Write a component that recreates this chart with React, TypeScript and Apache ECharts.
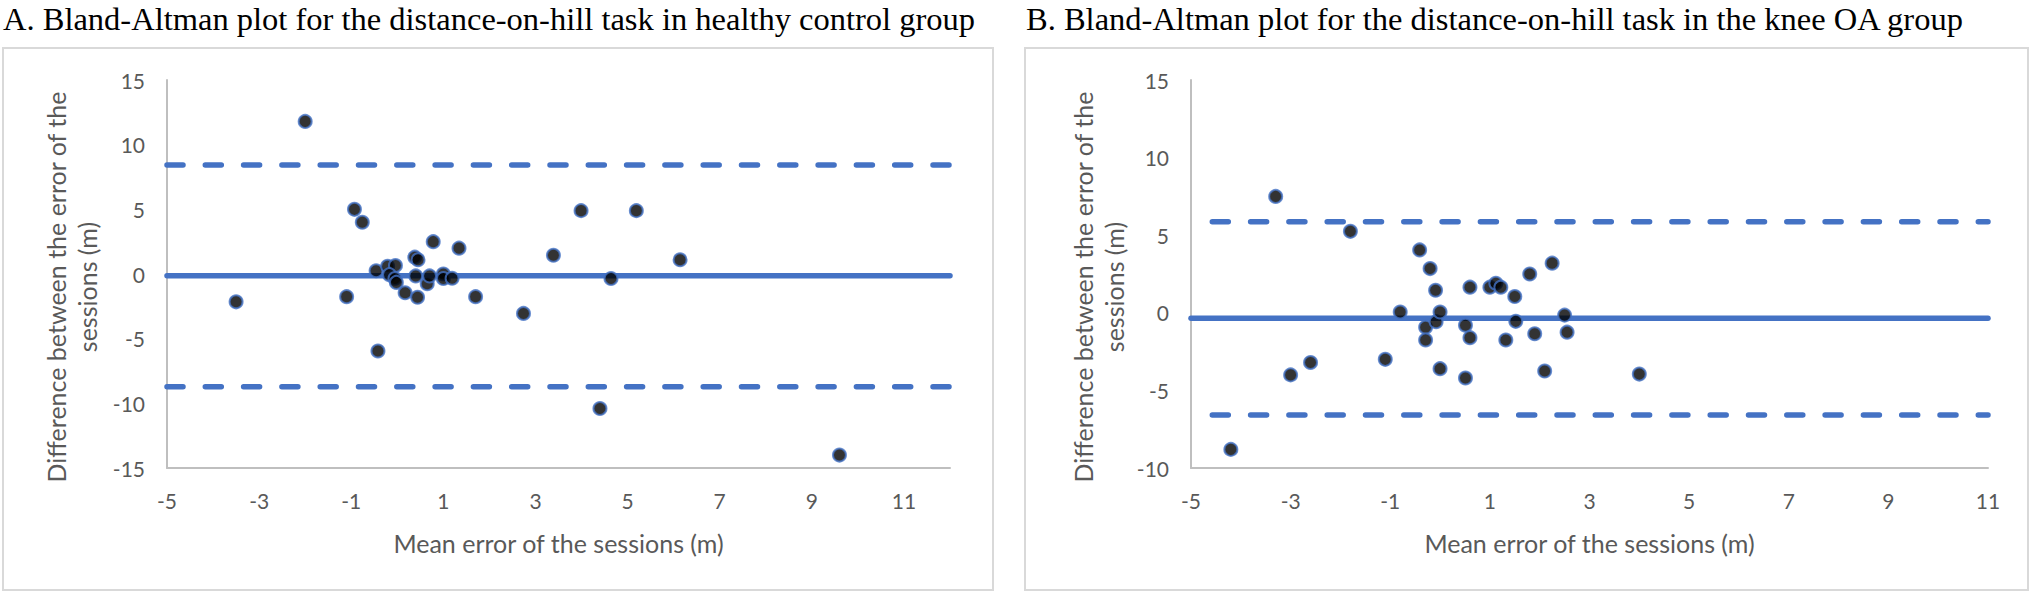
import React, { useEffect, useRef } from "react";
import * as echarts from "echarts";

// ---------- texts ----------
const titleA = "A. Bland-Altman plot for the distance-on-hill task in healthy control group";
const titleB = "B. Bland-Altman plot for the distance-on-hill task in the knee OA group";
const xAxisName = "Mean error of the sessions (m)";
const yAxisName = "Difference between the error of the\nsessions (m)";

// ---------- panel A: healthy control group ----------
const meanA = [
  -3.5, -2.0, -1.1, -0.93, -0.76, -0.46, -0.42, -0.21, -0.04, -0.17, -0.05,
  -0.02, 0.17, 0.38, 0.45, 0.4, 0.44, 0.65, 0.7, 0.78, 1.0, 1.0, 1.19, 1.34,
  1.7, 2.74, 3.39, 3.99, 4.4, 4.64, 5.19, 6.14, 9.6,
];
const diffA = [
  -2.15, 11.8, -1.75, 5.0, 4.0, 0.25, -5.95, 0.6, 0.65, -0.05, -0.35, -0.65,
  -1.45, 1.3, 1.1, -0.15, -1.8, -0.75, -0.15, 2.5, 0.0, -0.35, -0.33, 2.0,
  -1.75, -3.05, 1.45, 4.9, -10.4, -0.35, 4.9, 1.1, -14.0,
];
const biasA = -0.13;
const upperA = 8.43;
const lowerA = -8.72;
const xRangeA = [-5, 12];
const yRangeA = [-15, 15];

// ---------- panel B: knee OA group ----------
const meanB = [
  -4.2, -3.3, -3.0, -2.6, -1.8, -1.1, -0.8, -0.41, -0.29, -0.29, -0.2, -0.09,
  -0.08, 0.0, 0.0, 0.51, 0.51, 0.6, 0.6, 1.0, 1.12, 1.22, 1.5, 1.52, 1.32,
  1.8, 2.25, 1.9, 2.1, 2.5, 2.55, 4.0,
];
const diffB = [
  -8.8, 7.5, -4.0, -3.2, 5.25, -3.0, 0.05, 4.05, -0.93, -1.75, 2.85, 1.45,
  -0.57, 0.05, -3.6, -0.8, -4.2, 1.65, -1.6, 1.65, 1.9, 1.65, 1.05, -0.55,
  -1.75, 2.5, 3.2, -1.35, -3.75, -0.15, -1.25, -3.95,
];
const biasB = -0.35;
const upperB = 5.87;
const lowerB = -6.58;
const xRangeB = [-5, 11];
const yRangeB = [-10, 15];

const BLUE = "#4472C4";
const GREY_TEXT = "#595959";
const AXIS_GREY = "#bfbfbf";
const SANS = "Lato";
const SERIF = "Liberation Serif";

function xAxisOf(gridIndex: number, range: number[]) {
  return {
    type: "value",
    gridIndex,
    min: range[0],
    max: range[1],
    interval: 2,
    name: xAxisName,
    nameLocation: "middle",
    nameGap: 62,
    nameTextStyle: { fontFamily: SANS, fontSize: 25, color: GREY_TEXT, lineHeight: 25 },
    axisLine: { show: true, onZero: false, lineStyle: { color: AXIS_GREY, width: 2 } },
    axisTick: { show: false },
    splitLine: { show: false },
    axisLabel: {
      fontFamily: SANS,
      fontSize: 21,
      color: GREY_TEXT,
      margin: 22,
      showMaxLabel: (range[1] - range[0]) % 2 === 0,
    },
  };
}

function yAxisOf(gridIndex: number, range: number[], gap: number) {
  return {
    type: "value",
    gridIndex,
    min: range[0],
    max: range[1],
    interval: 5,
    name: yAxisName,
    nameLocation: "middle",
    nameRotate: 90,
    nameGap: gap,
    nameTextStyle: {
      fontFamily: SANS,
      fontSize: 25,
      color: GREY_TEXT,
      lineHeight: 31,
      padding: [0, 26, 0, 0],
    },
    axisLine: { show: true, onZero: false, lineStyle: { color: AXIS_GREY, width: 2 } },
    axisTick: { show: false },
    splitLine: { show: false },
    axisLabel: { fontFamily: SANS, fontSize: 21, color: GREY_TEXT, margin: 22 },
  };
}

function hLine(idx: number, range: number[], v: number, dashed: boolean, offset: number) {
  return {
    type: "line",
    xAxisIndex: idx,
    yAxisIndex: idx,
    data: [
      [range[0], v],
      [range[1], v],
    ],
    symbol: "none",
    silent: true,
    z: 2,
    lineStyle: {
      color: BLUE,
      width: 5.5,
      type: dashed ? [16, 22.3] : "solid",
      dashOffset: offset,
      cap: "round",
    },
  };
}

function scatterOf(idx: number, xs: number[], ys: number[]) {
  return {
    type: "scatter",
    xAxisIndex: idx,
    yAxisIndex: idx,
    data: xs.map((x, i) => [x, ys[i]]),
    symbol: "circle",
    symbolSize: 13,
    z: 5,
    itemStyle: { color: "#000000", borderColor: BLUE, borderWidth: 2 },
  };
}

export default function App() {
  const ref = useRef<HTMLDivElement>(null);

  useEffect(() => {
    if (!ref.current) return;
    const chart = echarts.init(ref.current, null, { renderer: "svg" });
    const titleStyle = {
      fontFamily: SERIF,
      fontSize: 32.5,
      lineHeight: 36,
      fontWeight: "normal",
      color: "#000",
    };
    chart.setOption({
      animation: false,
      backgroundColor: "#ffffff",
      title: [
        { text: titleA, left: 3, top: 1, padding: 0, textStyle: titleStyle },
        { text: titleB, left: 1026, top: 1, padding: 0, textStyle: titleStyle },
      ],
      graphic: [
        {
          type: "rect",
          shape: { x: 3, y: 48, width: 990, height: 542 },
          style: { fill: "none", stroke: "#d9d9d9", lineWidth: 2 },
          silent: true,
        },
        {
          type: "rect",
          shape: { x: 1025, y: 48, width: 1003, height: 542 },
          style: { fill: "none", stroke: "#d9d9d9", lineWidth: 2 },
          silent: true,
        },
      ],
      grid: [
        { left: 167, top: 80, width: 783, height: 388 },
        { left: 1191, top: 80, width: 797, height: 388 },
      ],
      xAxis: [xAxisOf(0, xRangeA), xAxisOf(1, xRangeB)],
      yAxis: [yAxisOf(0, yRangeA, 65), yAxisOf(1, yRangeB, 62)],
      series: [
        hLine(0, xRangeA, upperA, true, 0),
        hLine(0, xRangeA, biasA, false, 0),
        hLine(0, xRangeA, lowerA, true, 0),
        scatterOf(0, meanA, diffA),
        hLine(1, xRangeB, upperB, true, 16.5),
        hLine(1, xRangeB, biasB, false, 0),
        hLine(1, xRangeB, lowerB, true, 16.5),
        scatterOf(1, meanB, diffB),
      ],
    });
    return () => chart.dispose();
  }, []);

  return (
    <div
      ref={ref}
      style={{ position: "fixed", left: 0, top: 0, width: 2031, height: 592, background: "#fff" }}
    />
  );
}
